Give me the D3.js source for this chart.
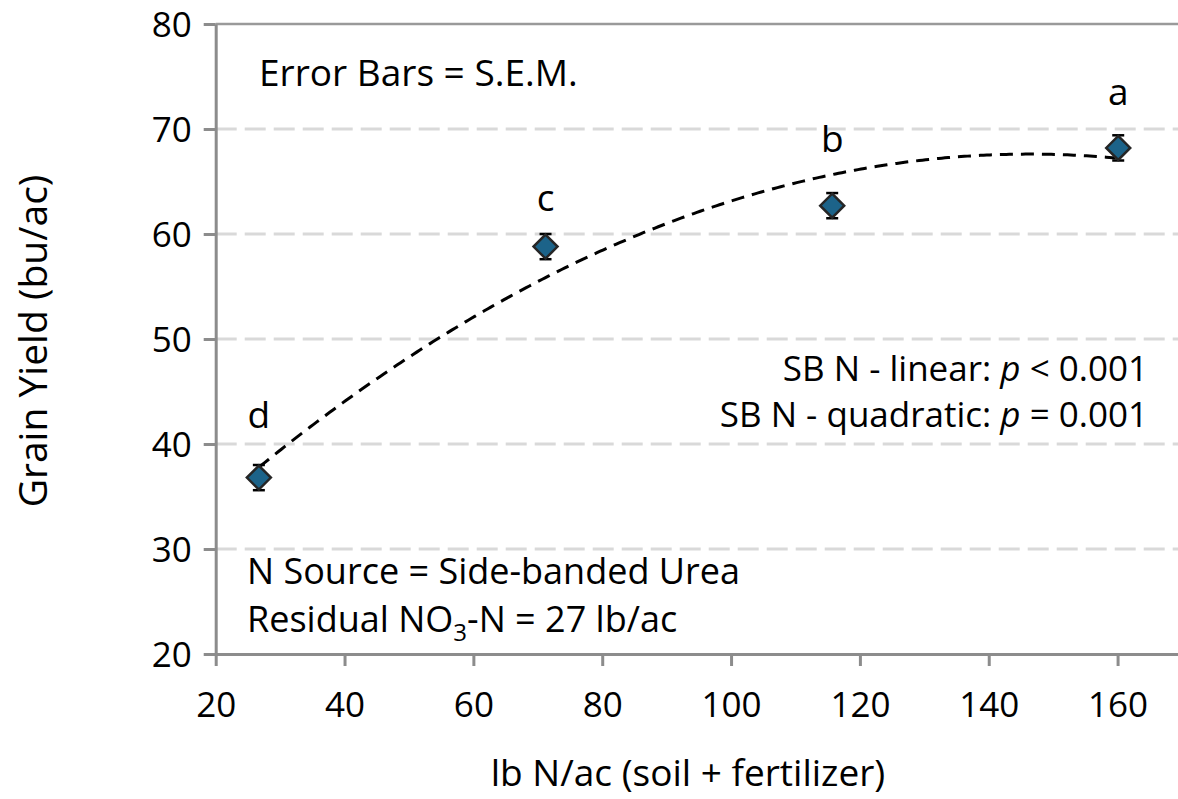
<!DOCTYPE html>
<html>
<head>
<meta charset="utf-8">
<script src="https://cdn.jsdelivr.net/npm/d3@7"></script>
<style>
  body { margin: 0; background: #fff; }
  svg { display: block; font-family: 'Open Sans', sans-serif; }
</style>
</head>
<body>
<div id="viz"></div>
<script>
// data
const nRate = [26.7, 71.2, 115.7, 160.1]
const grainYield = [36.8, 58.8, 62.7, 68.2]
const sem = [1.2, 1.2, 1.2, 1.2]
const groups = ['d', 'c', 'b', 'a']
const groupLabelY = [41.5, 62.2, 67.8, 72.3]
const xTicks = [20, 40, 60, 80, 100, 120, 140, 160]
const yTicks = [20, 30, 40, 50, 60, 70, 80]

const W = 1178, H = 799
const margin = { left: 215.7, top: 24, right: -4, bottom: 145 }

const x = d3.scaleLinear().domain([20, 170]).range([margin.left, W - margin.right])
const y = d3.scaleLinear().domain([20, 80]).range([H - margin.bottom, margin.top])

const svg = d3.select('#viz').append('svg')
  .attr('width', W)
  .attr('height', H)

//
// gridlines
//
svg.append('g')
  .selectAll('line')
  .data(yTicks.filter(d => d > 20))
  .join('line')
    .attr('x1', x(20)).attr('x2', x(170))
    .attr('y1', d => y(d)).attr('y2', d => y(d))
    .attr('stroke', d => d == 80 ? '#9a9a9a' : '#d9d9d9')
    .attr('stroke-width', d => d == 80 ? 2.5 : 3)
    .attr('stroke-dasharray', d => d == 80 ? null : '21,8')

//
// axes
//
let xAxis = svg.append('g')
  .attr('transform', 'translate(0,' + y(20) + ')')
  .call(d3.axisBottom(x).tickValues(xTicks).tickSize(12).tickSizeOuter(0).tickPadding(26))

let yAxis = svg.append('g')
  .attr('transform', 'translate(' + x(20) + ',0)')
  .call(d3.axisLeft(y).tickValues(yTicks).tickSize(12).tickSizeOuter(0).tickPadding(12))

for (let ax of [xAxis, yAxis]) {
  ax.select('.domain').attr('stroke', '#8c8c8c').attr('stroke-width', 3)
  ax.selectAll('.tick line').attr('stroke', '#8c8c8c').attr('stroke-width', 3)
  ax.selectAll('.tick text')
    .attr('fill', '#000')
    .style('font-family', "'Open Sans', sans-serif")
    .style('font-size', '35px')
}
yAxis.selectAll('.tick text').attr('dy', '0.36em')

//
// quadratic trendline (least squares through the points)
//
function quadFit(xs, ys) {
  let S = [0, 0, 0, 0, 0], T = [0, 0, 0]
  xs.forEach((xi, i) => {
    for (let k = 0; k < 5; k++) S[k] += Math.pow(xi, k)
    for (let k = 0; k < 3; k++) T[k] += ys[i] * Math.pow(xi, k)
  })
  let A = [[S[0], S[1], S[2], T[0]], [S[1], S[2], S[3], T[1]], [S[2], S[3], S[4], T[2]]]
  for (let i = 0; i < 3; i++) {
    for (let j = i + 1; j < 3; j++) {
      let f = A[j][i] / A[i][i]
      for (let k = i; k < 4; k++) A[j][k] -= f * A[i][k]
    }
  }
  let c = [0, 0, 0]
  for (let i = 2; i >= 0; i--) {
    let s = A[i][3]
    for (let k = i + 1; k < 3; k++) s -= A[i][k] * c[k]
    c[i] = s / A[i][i]
  }
  return c
}

let coef = quadFit(nRate, grainYield)
let xs = d3.range(nRate[0], nRate[nRate.length - 1] + 0.01, 0.5)
svg.append('path')
  .datum(xs)
  .attr('fill', 'none')
  .attr('stroke', '#000')
  .attr('stroke-width', 3)
  .attr('stroke-dasharray', '13,8')
  .attr('d', d3.line()
    .x(d => x(d))
    .y(d => y(coef[0] + coef[1] * d + coef[2] * d * d)))

//
// error bars + markers
//
let pts = nRate.map((d, i) => ({ x: d, y: grainYield[i], e: sem[i], g: groups[i], gy: groupLabelY[i] }))

let eb = svg.append('g').selectAll('g')
  .data(pts)
  .join('g')
  .attr('stroke', '#000')
  .attr('stroke-width', 2.5)

eb.append('line')
  .attr('x1', d => x(d.x)).attr('x2', d => x(d.x))
  .attr('y1', d => y(d.y - d.e)).attr('y2', d => y(d.y + d.e))
eb.append('line')
  .attr('x1', d => x(d.x) - 6).attr('x2', d => x(d.x) + 6)
  .attr('y1', d => y(d.y + d.e)).attr('y2', d => y(d.y + d.e))
eb.append('line')
  .attr('x1', d => x(d.x) - 6).attr('x2', d => x(d.x) + 6)
  .attr('y1', d => y(d.y - d.e)).attr('y2', d => y(d.y - d.e))

svg.append('g').selectAll('path')
  .data(pts)
  .join('path')
    .attr('transform', d => 'translate(' + [x(d.x), y(d.y)] + ')')
    .attr('d', 'M0,-12L12,0L0,12L-12,0Z')
    .attr('fill', '#1c6389')
    .attr('stroke', '#262626')
    .attr('stroke-width', 2.5)

svg.append('g').selectAll('text')
  .data(pts)
  .join('text')
    .attr('x', d => x(d.x))
    .attr('y', d => y(d.gy))
    .attr('text-anchor', 'middle')
    .style('font-size', '37px')
    .text(d => d.g)

//
// annotations
//
svg.append('text')
  .attr('x', 259).attr('y', 86)
  .style('font-size', '37px')
  .text('Error Bars = S.E.M.')

let stats = svg.append('g')
  .attr('text-anchor', 'end')
  .style('font-size', '35px')
let l1 = stats.append('text').attr('x', 1148).attr('y', 381)
l1.append('tspan').text('SB N - linear: ')
l1.append('tspan').style('font-style', 'italic').text('p')
l1.append('tspan').text(' < 0.001')
let l2 = stats.append('text').attr('x', 1148).attr('y', 427)
l2.append('tspan').text('SB N - quadratic: ')
l2.append('tspan').style('font-style', 'italic').text('p')
l2.append('tspan').text(' = 0.001')

let src = svg.append('g').style('font-size', '36px')
src.append('text').attr('x', 247).attr('y', 584).text('N Source = Side-banded Urea')
let res = src.append('text').attr('x', 247).attr('y', 632)
res.append('tspan').text('Residual NO')
res.append('tspan').attr('dy', 9).style('font-size', '24px').text('3')
res.append('tspan').attr('dy', -9).text('-N = 27 lb/ac')

//
// axis titles
//
svg.append('text')
  .attr('transform', 'translate(47,341) rotate(-90)')
  .attr('text-anchor', 'middle')
  .style('font-size', '39px')
  .text('Grain Yield (bu/ac)')

svg.append('text')
  .attr('x', 688).attr('y', 786)
  .attr('text-anchor', 'middle')
  .style('font-size', '37px')
  .text('lb N/ac (soil + fertilizer)')
</script>
</body>
</html>
